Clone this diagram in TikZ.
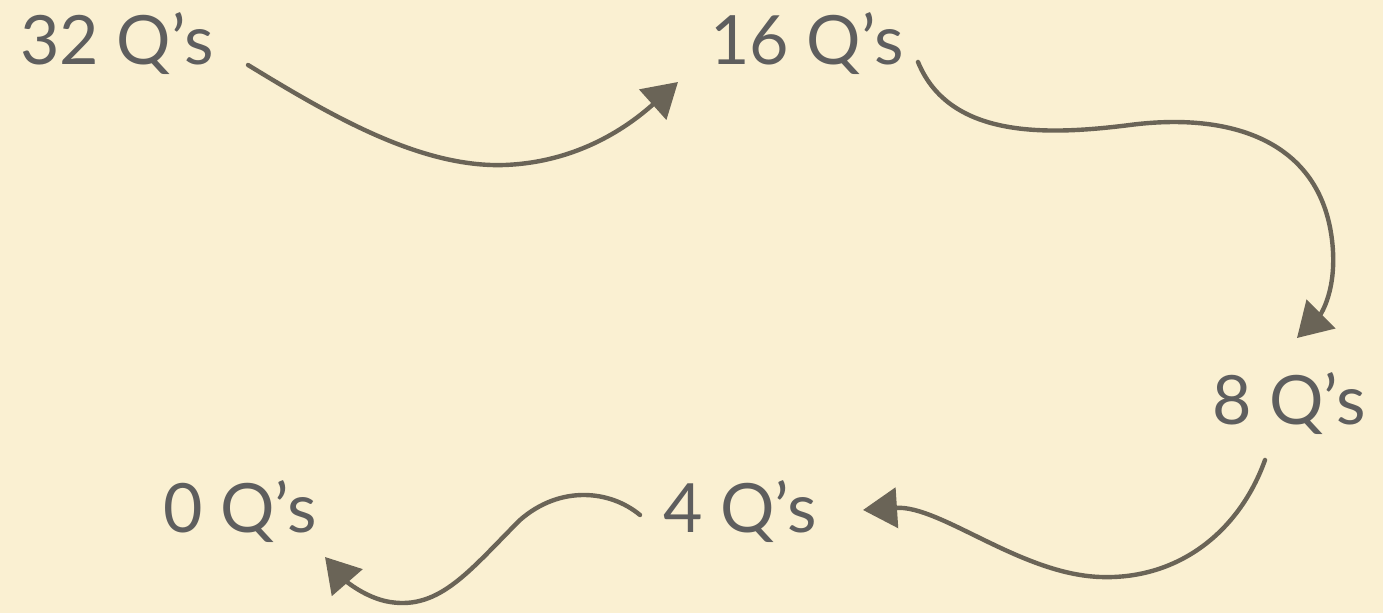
\documentclass[tikz,border=0pt]{standalone}
\usepackage{fontspec}
\setmainfont{Lato}
\usepackage{xcolor}
\definecolor{cPaper}{HTML}{FAF0D2}
\definecolor{cInk}{HTML}{5E5E5E}
\definecolor{cPen}{HTML}{6A6457}
\usetikzlibrary{arrows.meta,calc}
\tikzset{
  count-label/.style={inner sep=0pt,text=cInk,font=\fontsize{34}{38}\selectfont},
  pen-arrow/.style={-{Triangle[length=17pt,width=20pt]},line width=2.2pt,
    line cap=round,draw=cPen},
}

\begin{document}
\begin{tikzpicture}[x=0.5pt,y=-0.5pt]
  % paper
  \fill[cPaper] (0,0) rectangle (1383,613);
  \useasboundingbox (0,0) rectangle (1383,613);
  % counts
  \node[count-label,anchor=base west] (n32) at (20,65)   {32 Q’s};
  \node[count-label,anchor=base west] (n16) at (710,65)  {16 Q’s};
  \node[count-label,anchor=base west] (n8)  at (1212,425) {8 Q’s};
  \node[count-label,anchor=base west] (n4)  at (663,533) {4 Q’s};
  \node[count-label,anchor=base west] (n0)  at (163,533) {0 Q’s};
  % halving steps
  \draw[pen-arrow] ([shift={(228,0)}]n32.base west)
    .. controls +(82,50) and +(-85,3) .. (505,165)
    .. controls +(75,-3) and +(-48,43) .. ([shift={(-32,17)}]n16.base west);
  \draw[pen-arrow] ([shift={(208,-3)}]n16.base west)
    .. controls +(32,78) and +(-80,10) .. (1130,125)
    .. controls +(100,-13) and +(-12,-100) .. (1332,240)
    .. controls +(6,50) and +(23,-23) .. ([shift={(85,-87)}]n8.base west);
  \draw[pen-arrow] ([shift={(53,35)}]n8.base west)
    .. controls +(-25,70) and +(80,3) .. (1100,577)
    .. controls +(-80,-3) and +(77,-5) .. ([shift={(200,-23)}]n4.base west);
  \draw[pen-arrow] ([shift={(-23,-18)}]n4.base west)
    .. controls +(-30,-25) and +(40,-35) .. (520,520)
    .. controls +(-50,50) and +(50,8) .. (390,602)
    .. controls +(-25,-4) and +(20,23) .. ([shift={(162,24)}]n0.base west);
\end{tikzpicture}
\end{document}
